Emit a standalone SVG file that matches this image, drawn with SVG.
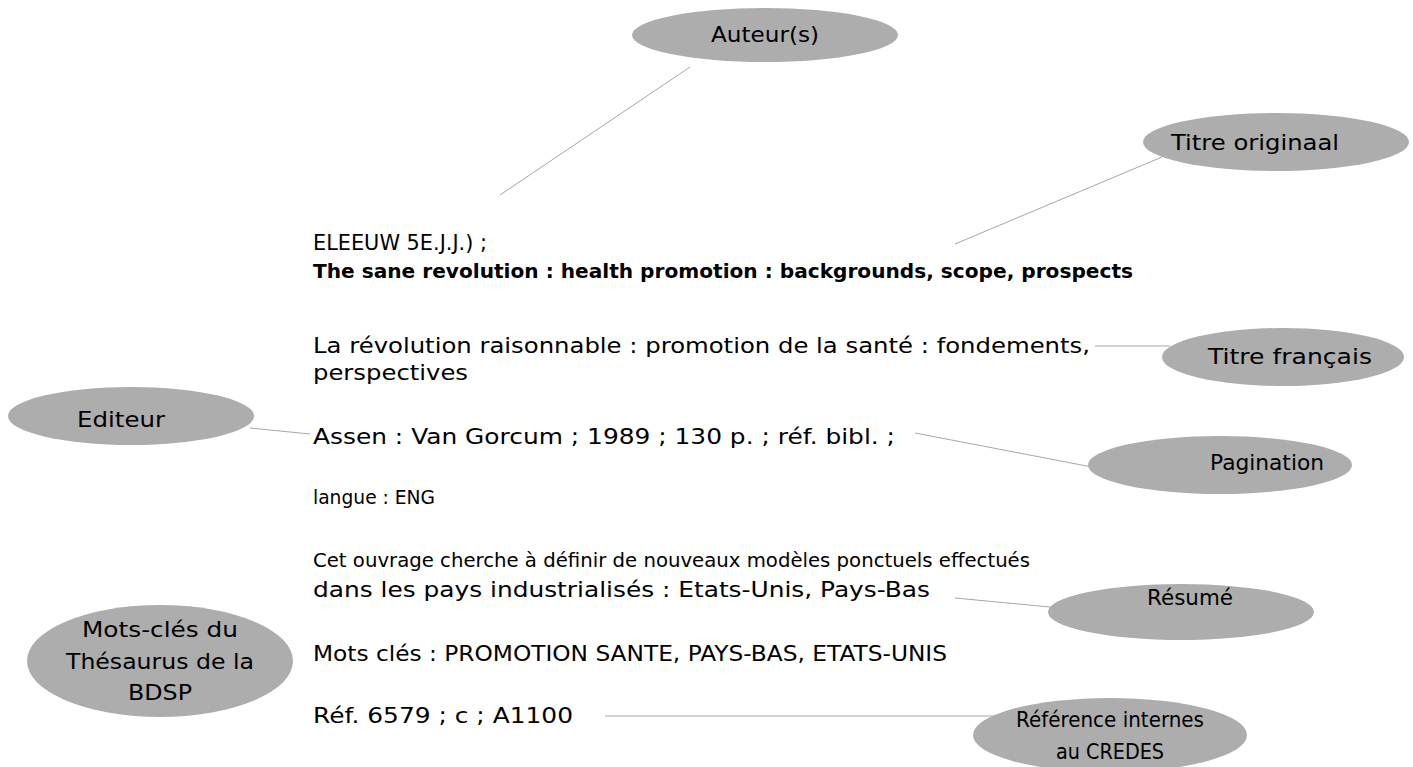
<svg xmlns="http://www.w3.org/2000/svg" width="1413" height="767" viewBox="0 0 1413 767">
<style>
.bg{fill:#ffffff}
.node ellipse{fill:#adadad;stroke:none}
.lbl{font-family:"DejaVu Sans","Liberation Sans",sans-serif;font-size:21px;fill:#000;text-anchor:middle}
.txt{font-family:"DejaVu Sans","Liberation Sans",sans-serif;font-size:21px;fill:#000}
.sm{font-size:20px}
.bold{font-weight:bold;font-size:20px}
.conn line{stroke:#a6a6a6;stroke-width:1}
</style>
<rect class="bg" x="0" y="0" width="1413" height="767"/>
<g id="connectors" class="conn">
<line x1="690" y1="67" x2="500" y2="195"/>
<line x1="955" y1="244" x2="1162" y2="157"/>
<line x1="1095" y1="346" x2="1170" y2="346"/>
<line x1="250" y1="428" x2="310" y2="434"/>
<line x1="915" y1="433" x2="1092" y2="467"/>
<line x1="955" y1="598" x2="1050" y2="607"/>
<line x1="605" y1="716" x2="1020" y2="716"/>
</g>
<g id="record">
<text class="txt" x="313" y="250" textLength="174" lengthAdjust="spacingAndGlyphs">ELEEUW 5E.J.J.) ;</text>
<text class="txt bold" x="313" y="278" textLength="820" lengthAdjust="spacingAndGlyphs">The sane revolution : health promotion : backgrounds, scope, prospects</text>
<text class="txt" x="313" y="353" textLength="777" lengthAdjust="spacingAndGlyphs">La révolution raisonnable : promotion de la santé : fondements,</text>
<text class="txt" x="313" y="380" textLength="155" lengthAdjust="spacingAndGlyphs">perspectives</text>
<text class="txt" x="313" y="444" textLength="582" lengthAdjust="spacingAndGlyphs">Assen : Van Gorcum ; 1989 ; 130 p. ; réf. bibl. ;</text>
<text class="txt sm" x="313" y="504" textLength="122" lengthAdjust="spacingAndGlyphs">langue : ENG</text>
<text class="txt sm" x="313" y="567" textLength="717" lengthAdjust="spacingAndGlyphs">Cet ouvrage cherche à définir de nouveaux modèles ponctuels effectués</text>
<text class="txt" x="313" y="597" textLength="617" lengthAdjust="spacingAndGlyphs">dans les pays industrialisés : Etats-Unis, Pays-Bas</text>
<text class="txt" x="313" y="661" textLength="634" lengthAdjust="spacingAndGlyphs">Mots clés : PROMOTION SANTE, PAYS-BAS, ETATS-UNIS</text>
<text class="txt" x="313" y="723" textLength="260" lengthAdjust="spacingAndGlyphs">Réf. 6579 ; c ; A1100</text>
</g>
<g id="auteurs" class="node">
<ellipse cx="765" cy="35" rx="133" ry="27"/>
<text class="lbl" x="765" y="42" textLength="108" lengthAdjust="spacingAndGlyphs">Auteur(s)</text>
</g>
<g id="titre-original" class="node">
<ellipse cx="1276" cy="142" rx="133" ry="29"/>
<text class="lbl" x="1255" y="150" textLength="168" lengthAdjust="spacingAndGlyphs">Titre originaal</text>
</g>
<g id="titre-francais" class="node">
<ellipse cx="1283" cy="357" rx="121" ry="29"/>
<text class="lbl" x="1290" y="364" textLength="164" lengthAdjust="spacingAndGlyphs">Titre français</text>
</g>
<g id="editeur" class="node">
<ellipse cx="131" cy="416" rx="123" ry="29"/>
<text class="lbl" x="121" y="427" textLength="88" lengthAdjust="spacingAndGlyphs">Editeur</text>
</g>
<g id="pagination" class="node">
<ellipse cx="1220" cy="465" rx="132" ry="29"/>
<text class="lbl" x="1267" y="470" textLength="114" lengthAdjust="spacingAndGlyphs">Pagination</text>
</g>
<g id="resume" class="node">
<ellipse cx="1181" cy="612" rx="133" ry="28"/>
<text class="lbl" x="1190" y="605" textLength="86" lengthAdjust="spacingAndGlyphs">Résumé</text>
</g>
<g id="mots-cles" class="node">
<ellipse cx="160" cy="661" rx="133" ry="56"/>
<text class="lbl" x="160" y="637" textLength="156" lengthAdjust="spacingAndGlyphs">Mots-clés du</text>
<text class="lbl" x="160" y="669" textLength="188" lengthAdjust="spacingAndGlyphs">Thésaurus de la</text>
<text class="lbl" x="160" y="700" textLength="64" lengthAdjust="spacingAndGlyphs">BDSP</text>
</g>
<g id="reference" class="node">
<ellipse cx="1110" cy="735" rx="137" ry="37"/>
<text class="lbl" x="1110" y="727" textLength="188" lengthAdjust="spacingAndGlyphs">Référence internes</text>
<text class="lbl" x="1110" y="759" textLength="108" lengthAdjust="spacingAndGlyphs">au CREDES</text>
</g>
</svg>
